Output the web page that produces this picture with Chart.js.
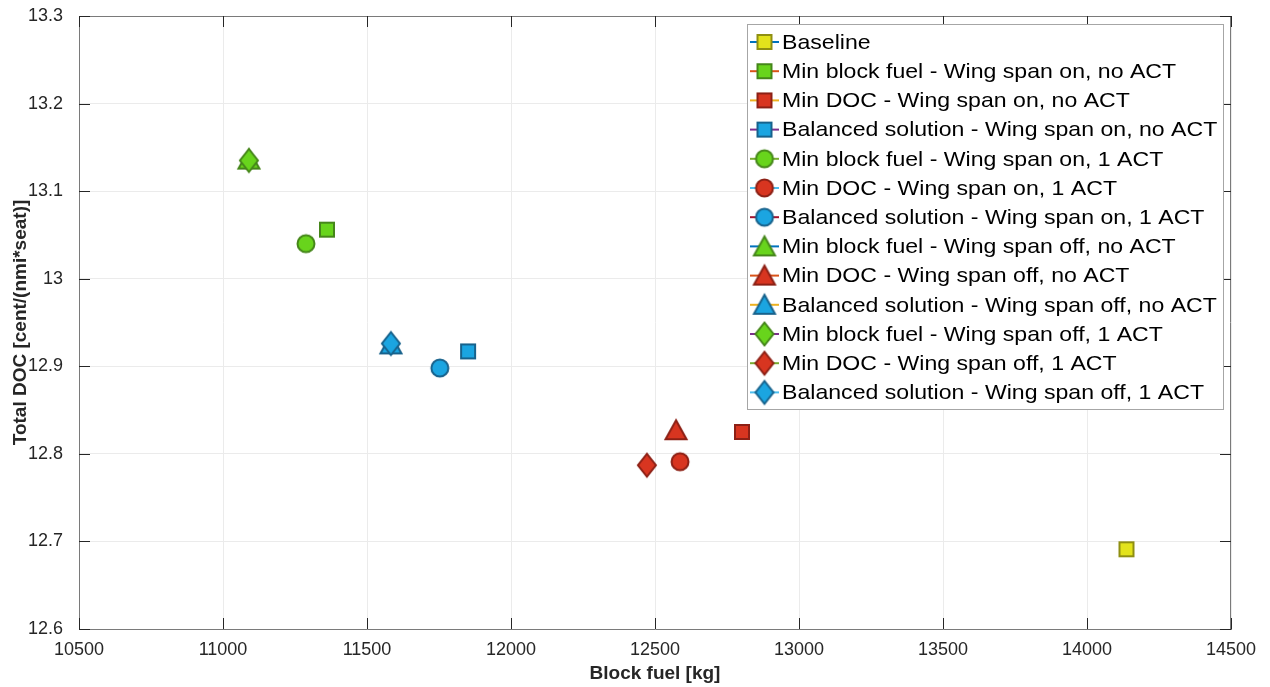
<!DOCTYPE html>
<html>
<head>
<meta charset="utf-8">
<script src="https://cdn.jsdelivr.net/npm/chart.js@4/dist/chart.umd.min.js"></script>
<style>
  html, body { margin: 0; padding: 0; background: #fff; }
  #wrap { width: 1270px; height: 687px; position: relative; }
</style>
</head>
<body>
<div id="wrap"><canvas id="docChart"></canvas></div>
<script>
// data
const seriesNames = [
  'Baseline',
  'Min block fuel - Wing span on, no ACT',
  'Min DOC - Wing span on, no ACT',
  'Balanced solution - Wing span on, no ACT',
  'Min block fuel - Wing span on, 1 ACT',
  'Min DOC - Wing span on, 1 ACT',
  'Balanced solution - Wing span on, 1 ACT',
  'Min block fuel - Wing span off, no ACT',
  'Min DOC - Wing span off, no ACT',
  'Balanced solution - Wing span off, no ACT',
  'Min block fuel - Wing span off, 1 ACT',
  'Min DOC - Wing span off, 1 ACT',
  'Balanced solution - Wing span off, 1 ACT'
];
const blockFuel = [14137, 11361, 12802, 11851, 11288, 12587, 11753, 11090, 12573, 11583, 11090, 12472, 11583];
const totalDoc  = [12.691, 13.056, 12.825, 12.917, 13.040, 12.791, 12.898, 13.136, 12.827, 12.925, 13.135, 12.787, 12.926];
const xTicks = [10500, 11000, 11500, 12000, 12500, 13000, 13500, 14000, 14500];
const yTicks = [12.6, 12.7, 12.8, 12.9, 13, 13.1, 13.2, 13.3];

// styles
const shapes = ['square', 'square', 'square', 'square', 'circle', 'circle', 'circle',
                'triangle', 'triangle', 'triangle', 'diamond', 'diamond', 'diamond'];
const palette = {
  yellow: ['#e3e31c', '#8f8f12'],
  green:  ['#68d41c', '#45861a'],
  red:    ['#d83520', '#8c2015'],
  blue:   ['#1ba5e1', '#17628c']
};
const colorKeys = ['yellow', 'green', 'red', 'blue', 'green', 'red', 'blue',
                   'green', 'red', 'blue', 'green', 'red', 'blue'];
const lineColors = ['#0072BD', '#D95319', '#EDB120', '#7E2F8E', '#77AC30', '#4DBEEE', '#A2142F',
                    '#0072BD', '#D95319', '#EDB120', '#7E2F8E', '#77AC30', '#4DBEEE'];

const FONT = '"Liberation Sans", Arial, Helvetica, sans-serif';

function makeMarker(shape, fill, stroke) {
  const c = document.createElement('canvas');
  c.width = 30; c.height = 30;
  const ctx = c.getContext('2d');
  ctx.fillStyle = fill;
  ctx.strokeStyle = stroke;
  ctx.lineWidth = 2;
  ctx.beginPath();
  if (shape === 'square') {
    ctx.rect(15 - 7, 15 - 7, 14, 14);
  } else if (shape === 'circle') {
    ctx.arc(15, 15, 8.5, 0, Math.PI * 2);
  } else if (shape === 'triangle') {
    ctx.moveTo(15, 5);
    ctx.lineTo(25.5, 24);
    ctx.lineTo(4.5, 24);
    ctx.closePath();
  } else {
    ctx.moveTo(15, 3.5);
    ctx.lineTo(24, 15);
    ctx.lineTo(15, 26.5);
    ctx.lineTo(6, 15);
    ctx.closePath();
  }
  ctx.fill();
  ctx.stroke();
  return c;
}

const markers = seriesNames.map((n, i) => {
  const [fill, stroke] = palette[colorKeys[i]];
  return makeMarker(shapes[i], fill, stroke);
});

const datasets = seriesNames.map((name, i) => ({
  label: name,
  data: [{ x: blockFuel[i], y: totalDoc[i] }],
  pointStyle: markers[i],
  showLine: false,
  order: seriesNames.length - 1 - i
}));

// matlab style box, inside ticks and the legend
const matlabLook = {
  id: 'matlabLook',
  afterDraw(chart) {
    const { ctx, chartArea: a, scales } = chart;
    ctx.save();
    ctx.strokeStyle = '#7a7a7a';
    ctx.lineWidth = 1;
    ctx.beginPath();
    ctx.moveTo(a.left, a.top + 0.5); ctx.lineTo(a.right, a.top + 0.5);
    ctx.moveTo(a.right - 0.5, a.top); ctx.lineTo(a.right - 0.5, a.bottom);
    ctx.stroke();

    ctx.strokeStyle = '#262626';
    ctx.beginPath();
    xTicks.forEach(v => {
      const x = Math.round(scales.x.getPixelForValue(v)) + 0.5;
      ctx.moveTo(x, a.bottom); ctx.lineTo(x, a.bottom - 11);
      ctx.moveTo(x, a.top); ctx.lineTo(x, a.top + 11);
    });
    yTicks.forEach(v => {
      const y = Math.round(scales.y.getPixelForValue(v)) + 0.5;
      ctx.moveTo(a.left, y); ctx.lineTo(a.left + 11, y);
      ctx.moveTo(a.right, y); ctx.lineTo(a.right - 11, y);
    });
    ctx.stroke();

    // legend
    const lx = 747, ly = 24, lw = 476, lh = 385, row = 29.2, first = 42;
    ctx.fillStyle = '#fff';
    ctx.fillRect(lx, ly, lw, lh);
    ctx.strokeStyle = '#a6a6a6';
    ctx.strokeRect(lx + 0.5, ly + 0.5, lw, lh);
    ctx.font = '21px ' + FONT;
    ctx.textBaseline = 'middle';
    seriesNames.forEach((name, i) => {
      const y = first + i * row;
      ctx.strokeStyle = lineColors[i];
      ctx.lineWidth = 2;
      ctx.beginPath();
      ctx.moveTo(750, y); ctx.lineTo(779, y);
      ctx.stroke();
      const m = markers[i];
      ctx.drawImage(m, 764.5 - m.width / 2, y - m.height / 2);
      ctx.fillStyle = '#000';
      ctx.save();
      ctx.translate(782, y + 1);
      ctx.scale(1.1, 1);
      ctx.fillText(name, 0, 0);
      ctx.restore();
    });
    ctx.restore();
  }
};

new Chart(document.getElementById('docChart'), {
  type: 'scatter',
  data: { datasets },
  options: {
    responsive: true,
    maintainAspectRatio: false,
    animation: false,
    layout: { padding: { top: 16, right: 39, left: 0, bottom: 0 } },
    plugins: { legend: { display: false }, tooltip: { enabled: false } },
    elements: { point: { radius: 10 } },
    scales: {
      x: {
        type: 'linear',
        min: 10500, max: 14500,
        afterBuildTicks: s => { s.ticks = xTicks.map(v => ({ value: v })); },
        afterFit: s => { s.height = 58; s.paddingLeft = 0; s.paddingRight = 0; },
        grid: { color: '#ebebeb', drawTicks: false },
        border: { color: '#7a7a7a' },
        ticks: { color: '#262626', font: { family: FONT, size: 18 }, padding: 10, maxRotation: 0,
                 callback: v => String(v) },
        title: { display: true, text: 'Block fuel [kg]', color: '#262626',
                 font: { family: FONT, size: 19, weight: 'bold' }, padding: { top: 0, bottom: 2 } }
      },
      y: {
        type: 'linear',
        min: 12.6, max: 13.3,
        afterBuildTicks: s => { s.ticks = yTicks.map(v => ({ value: v })); },
        afterFit: s => { s.width = 79; s.paddingTop = 0; s.paddingBottom = 0; },
        grid: { color: '#ebebeb', drawTicks: false },
        border: { color: '#7a7a7a' },
        ticks: { color: '#262626', font: { family: FONT, size: 18 }, padding: 16,
                 callback: v => String(Math.round(v * 10) / 10) },
        title: { display: true, text: 'Total DOC [cent/(nmi*seat)]', color: '#262626',
                 font: { family: FONT, size: 19, weight: 'bold' }, padding: { top: 9, bottom: 0 } }
      }
    }
  },
  plugins: [matlabLook]
});
</script>
</body>
</html>
